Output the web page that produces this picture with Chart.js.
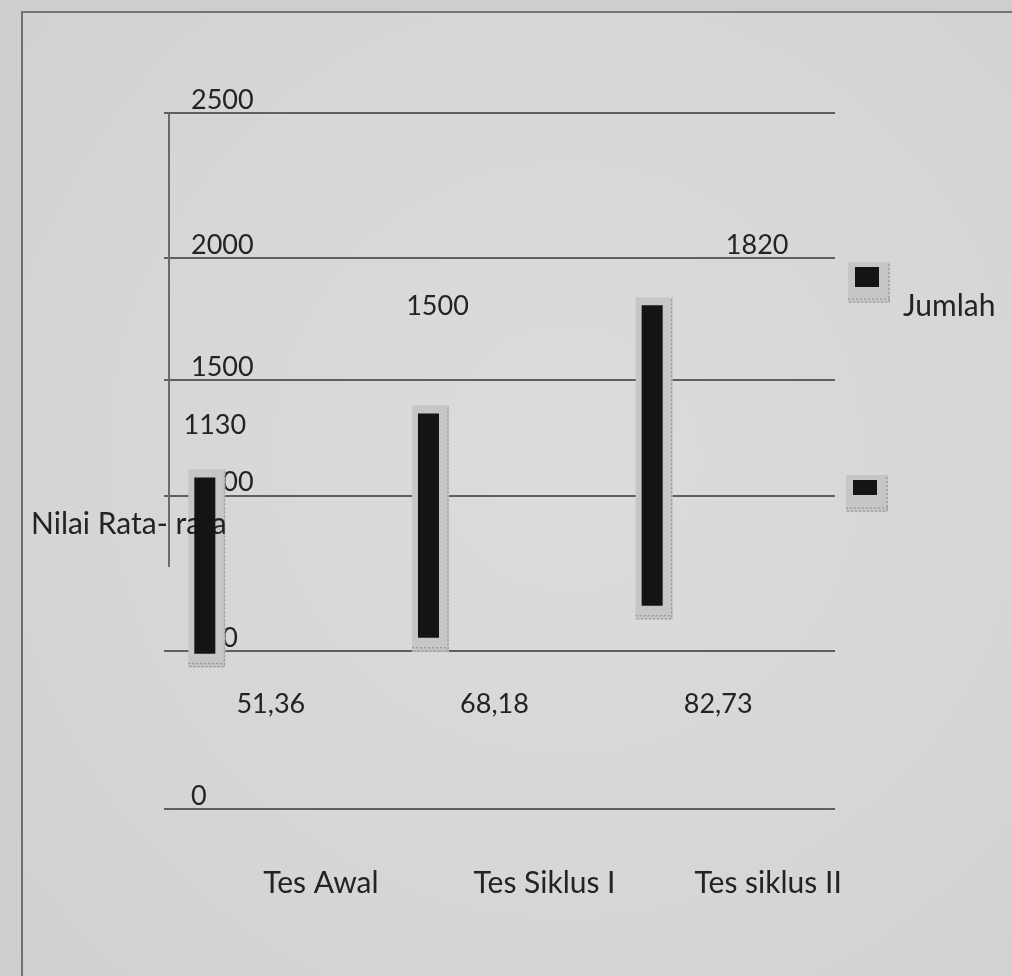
<!DOCTYPE html>
<html>
<head>
<meta charset="utf-8">
<title>Nilai Rata-rata</title>
<script src="https://cdn.jsdelivr.net/npm/chart.js@4.4.0/dist/chart.umd.min.js"></script>
<style>
    html, body { margin: 0; padding: 0; }
    body { width: 1012px; height: 976px; background: #cfcecf; overflow: hidden; position: relative; }
    #kertas {
        position: absolute; left: 21px; top: 11px; width: 990px; height: 990px;
        border-left: 2px solid #6f6f70; border-top: 2px solid #747475;
        background: radial-gradient(ellipse at 55% 45%, #dcdbdd 0%, #d6d5d7 60%, #d0cfd1 100%);
    }
    #grafik { position: absolute; left: 0; top: 0; }
</style>
</head>
<body>
<div id="kertas"></div>
<canvas id="grafik" width="1012" height="976"></canvas>
<script>
// data grafik
const kategori = ['Tes Awal', 'Tes Siklus I', 'Tes siklus II'];
const jumlah = [1130, 1500, 1820];
const nilaiRataRata = [51.36, 68.18, 82.73];
// batang tercetak "melayang": awal dan ujung
const batangAwal = [558, 615, 730];
const batangAkhir = [1191, 1421, 1809];
// garis bantu sumbu y (posisinya tidak rata di gambar asli)
const tickNilai = [0, 568, 1126, 1540, 1978, 2500];
const tickLabel = ['0', '500', '1000', '1500', '2000', '2500'];

const warnaTeks = '#232325';
const hurufAngka = { family: 'Lato', size: 27 };
const hurufKata = { family: 'Lato', size: 30 };

// geser label jumlah relatif terhadap ujung batang
const geserJumlah = [{ dx: 10, dy: -52 }, { dx: 9, dy: -107 }, { dx: 105, dy: -60 }];

function tulis(ctx, teks, x, y, align, huruf) {
    huruf = huruf || hurufAngka;
    ctx.save();
    ctx.fillStyle = warnaTeks;
    ctx.font = huruf.size + 'px ' + huruf.family;
    ctx.textAlign = align || 'center';
    ctx.textBaseline = 'middle';
    ctx.fillText(teks, x, y);
    ctx.restore();
}

function kotakBayangan(ctx, x, y, w, h) {
    ctx.save();
    ctx.fillStyle = '#c6c5c7';
    ctx.fillRect(x, y, w, h);
    ctx.strokeStyle = '#8d8c8e';
    ctx.lineWidth = 1;
    ctx.setLineDash([2, 2]);
    ctx.beginPath();
    ctx.moveTo(x + w - 1, y + 2);
    ctx.lineTo(x + w - 1, y + h - 1);
    ctx.lineTo(x, y + h - 1);
    ctx.stroke();
    ctx.beginPath();
    ctx.moveTo(x, y + h - 4);
    ctx.lineTo(x + w, y + h - 4);
    ctx.stroke();
    ctx.restore();
}

const hiasan = {
    id: 'hiasan',
    beforeDatasetsDraw(chart) {
        const ctx = chart.ctx;
        const area = chart.chartArea;
        // garis sumbu kiri (hanya sebagian)
        ctx.save();
        ctx.strokeStyle = '#6a6a6b';
        ctx.lineWidth = 2;
        ctx.beginPath();
        ctx.moveTo(area.left + 5, area.top);
        ctx.lineTo(area.left + 5, area.top + 454);
        ctx.stroke();
        ctx.restore();
        // bayangan di belakang batang
        chart.getDatasetMeta(0).data.forEach(el => {
            const p = el.getProps(['x', 'y', 'base', 'width'], true);
            kotakBayangan(ctx, p.x - p.width / 2 - 6, p.y - 8, p.width + 16, p.base - p.y + 22);
        });
        // label seri kedua yang tertimpa batang pertama
        tulis(ctx, chart.data.datasets[1].label, 31, 524, 'left', hurufKata);
    },
    afterDatasetsDraw(chart) {
        const ctx = chart.ctx;
        const area = chart.chartArea;
        const x = chart.scales.x;
        chart.getDatasetMeta(0).data.forEach((el, i) => {
            const p = el.getProps(['x', 'y'], true);
            tulis(ctx, String(jumlah[i]), p.x + geserJumlah[i].dx, p.y + geserJumlah[i].dy);
        });
        nilaiRataRata.forEach((v, i) => {
            tulis(ctx, String(v).replace('.', ','), x.getPixelForValue(i) - 5, area.bottom - 105);
        });
        // legenda
        const leg = [{ x: 848, y: 262, h: 41, ih: 20 }, { x: 846, y: 475, h: 37, ih: 15 }];
        leg.forEach(l => {
            kotakBayangan(ctx, l.x, l.y, 42, l.h);
            ctx.fillStyle = '#141414';
            ctx.fillRect(l.x + 7, l.y + 5, 24, l.ih);
        });
        tulis(ctx, chart.data.datasets[0].label, 903, 306, 'left', hurufKata);
    }
};

new Chart(document.getElementById('grafik').getContext('2d'), {
    type: 'bar',
    data: {
        labels: kategori,
        datasets: [
            {
                label: 'Jumlah',
                data: kategori.map((_, i) => [batangAwal[i], batangAkhir[i]]),
                backgroundColor: '#141414',
                categoryPercentage: 1.27,
                barPercentage: 0.148
            },
            {
                label: 'Nilai Rata- rata',
                data: nilaiRataRata,
                backgroundColor: 'rgba(0, 0, 0, 0)',
                categoryPercentage: 1.27,
                barPercentage: 0.148
            }
        ]
    },
    options: {
        responsive: false,
        animation: false,
        layout: { padding: { left: 110, right: 177, top: 113, bottom: 27 } },
        plugins: {
            legend: { display: false },
            tooltip: { enabled: false }
        },
        scales: {
            x: {
                grid: { display: false },
                border: { display: false },
                ticks: { color: warnaTeks, font: hurufKata, padding: 48, labelOffset: 45 }
            },
            y: {
                min: 0,
                max: 2500,
                afterBuildTicks: s => { s.ticks = tickNilai.map(v => ({ value: v })); },
                grid: { color: '#5f5f60', lineWidth: 2, drawTicks: false },
                border: { display: false },
                ticks: {
                    mirror: true,
                    padding: 27,
                    labelOffset: -13,
                    color: warnaTeks,
                    font: hurufAngka,
                    callback: v => tickLabel[tickNilai.indexOf(v)]
                }
            }
        }
    },
    plugins: [hiasan]
});
</script>
</body>
</html>
